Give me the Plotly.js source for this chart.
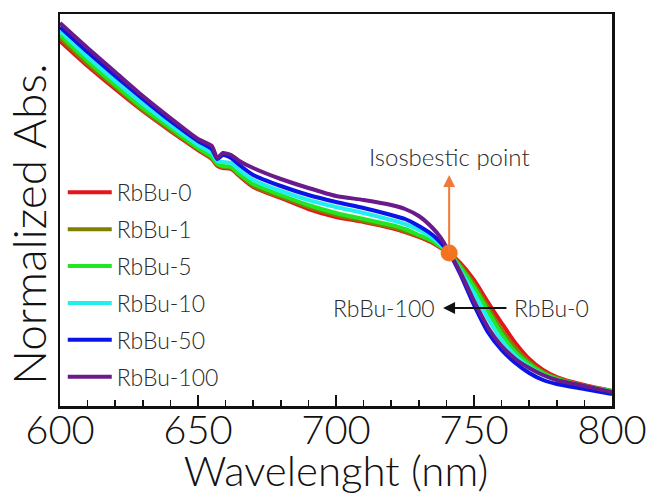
<!DOCTYPE html>
<html>
<head>
<meta charset="utf-8">
<script src="https://cdn.plot.ly/plotly-3.0.1.min.js"></script>
<style>html,body{margin:0;padding:0;background:#fff;}#chart{width:655px;height:495px;}</style>
</head>
<body>
<div id="chart"></div>
<script>
// Wavelength grid (nm)
const wavelength = [600,610,620,630,640,650,655,657,659,662,665,670,680,690,700,710,720,725,730,735,738,741,745,750,755,760,765,770,775,780,790,800];

// Normalized absorbance (arbitrary units)
const rbbu0   = [3.65,3.40,3.17,2.95,2.75,2.56,2.47,2.40,2.38,2.37,2.30,2.19,2.08,1.97,1.89,1.84,1.78,1.74,1.69,1.63,1.58,1.53,1.43,1.26,1.04,0.83,0.63,0.47,0.36,0.29,0.21,0.15];
const rbbu1   = [3.68,3.42,3.19,2.96,2.76,2.57,2.48,2.41,2.39,2.38,2.31,2.20,2.09,1.99,1.91,1.85,1.79,1.75,1.70,1.64,1.59,1.53,1.41,1.22,0.99,0.76,0.58,0.44,0.34,0.28,0.20,0.15];
const rbbu5   = [3.71,3.45,3.21,2.98,2.78,2.58,2.49,2.42,2.40,2.39,2.32,2.22,2.11,2.01,1.93,1.87,1.81,1.77,1.71,1.65,1.59,1.53,1.39,1.19,0.95,0.72,0.54,0.42,0.33,0.27,0.20,0.15];
const rbbu10  = [3.75,3.49,3.25,3.02,2.81,2.61,2.53,2.45,2.44,2.43,2.36,2.26,2.15,2.06,1.99,1.93,1.86,1.82,1.76,1.68,1.61,1.53,1.36,1.13,0.88,0.66,0.50,0.39,0.31,0.26,0.19,0.14];
const rbbu50  = [3.79,3.54,3.30,3.07,2.85,2.65,2.57,2.47,2.51,2.48,2.41,2.31,2.20,2.11,2.04,1.98,1.91,1.87,1.80,1.71,1.63,1.53,1.32,1.01,0.74,0.56,0.43,0.33,0.26,0.22,0.17,0.12];
const rbbu100 = [3.83,3.58,3.34,3.10,2.88,2.67,2.60,2.48,2.53,2.51,2.45,2.38,2.27,2.18,2.10,2.06,2.01,1.97,1.90,1.78,1.68,1.54,1.34,1.05,0.79,0.60,0.47,0.38,0.31,0.26,0.20,0.14];

const seriesNames = ["RbBu-0","RbBu-1","RbBu-5","RbBu-10","RbBu-50","RbBu-100"];
const seriesData = [rbbu0, rbbu1, rbbu5, rbbu10, rbbu50, rbbu100];
const seriesColors = ["#e8141c","#808000","#22e622","#22eeee","#0a14e6","#6a1a8a"];

// Isosbestic point
const isoX = [741];
const isoY = [1.53];
const isoArrowTipY = 2.31;

// Shift arrow (RbBu-0 -> RbBu-100)
const shiftArrowY = 0.98;
const shiftFrom = 762.3;
const shiftTo = 738.8;

const fontFam = "Lato, Open Sans, sans-serif";

const traces = seriesNames.map((n, i) => ({
  x: wavelength, y: seriesData[i], name: n, type: "scatter", mode: "lines",
  line: {color: seriesColors[i], width: 4, shape: "spline", smoothing: 0.6},
  legendgroup: n
}));
traces.push({
  x: isoX, y: isoY, type: "scatter", mode: "markers", showlegend: false,
  marker: {color: "#f47320", size: 17}
});

const layout = {
  width: 655, height: 495,
  margin: {l: 60, r: 43, t: 14, b: 89},
  paper_bgcolor: "#fff", plot_bgcolor: "#fff",
  showlegend: true,
  legend: {x: 0.005, y: 0.6, xanchor: "left", yanchor: "top",
    font: {family: fontFam, size: 23, color: "#2a2a2a", weight: 300},
    bgcolor: "rgba(0,0,0,0)", tracegroupgap: 4, itemwidth: 44},
  xaxis: {
    range: [600, 800], showgrid: false, zeroline: false,
    showline: true, linecolor: "#111", linewidth: 2.5, mirror: true,
    ticks: "inside", ticklen: 11, tickwidth: 1.5, tickcolor: "#111",
    tickvals: [600,650,700,750,800],
    ticktext: ["600","650","700","750","800"],
    tickfont: {family: fontFam, size: 40, color: "#111", weight: 300},
    ticklabelstandoff: -13,
    minor: {ticks: "inside", ticklen: 6, tickwidth: 1.5, tickcolor: "#111", dtick: 10, showgrid: false},
    title: {text: "Wavelenght (nm)", font: {family: fontFam, size: 42, color: "#111", weight: 300}, standoff: 9}
  },
  yaxis: {
    range: [0, 3.92], showgrid: false, zeroline: false,
    showline: true, linecolor: "#111", linewidth: 2.5, mirror: true,
    ticks: "", showticklabels: false
  },
  annotations: [
    {xref: "paper", yref: "paper", x: -0.056, y: 0.465, text: "Normalized Abs.", textangle: -90,
     showarrow: false, xanchor: "center", yanchor: "middle",
     font: {family: fontFam, size: 46, color: "#111", weight: 300}},
    {x: isoX[0], y: isoArrowTipY, ax: isoX[0], ay: isoY[0], axref: "x", ayref: "y",
     xref: "x", yref: "y", showarrow: true, arrowhead: 2, arrowsize: 1.2, arrowwidth: 2,
     arrowcolor: "#f07a3a", text: ""},
    {x: isoX[0], y: 2.5, xref: "x", yref: "y", text: "Isosbestic point", showarrow: false,
     font: {family: fontFam, size: 24, color: "#2a2a2a", weight: 300}, xanchor: "center", yanchor: "middle"},
    {x: shiftTo, y: shiftArrowY, ax: shiftFrom, ay: shiftArrowY, axref: "x", ayref: "y",
     xref: "x", yref: "y", showarrow: true, arrowhead: 2, arrowsize: 1.2, arrowwidth: 2,
     arrowcolor: "#111", text: ""},
    {x: 736.6, y: shiftArrowY, xref: "x", yref: "y", text: "RbBu-100", showarrow: false,
     xanchor: "right", yanchor: "middle", font: {family: fontFam, size: 23, color: "#2a2a2a", weight: 300}},
    {x: 763.8, y: shiftArrowY, xref: "x", yref: "y", text: "RbBu-0", showarrow: false,
     xanchor: "left", yanchor: "middle", font: {family: fontFam, size: 23, color: "#2a2a2a", weight: 300}}
  ]
};

Plotly.newPlot("chart", traces, layout, {staticPlot: true, displayModeBar: false});
</script>
</body>
</html>
